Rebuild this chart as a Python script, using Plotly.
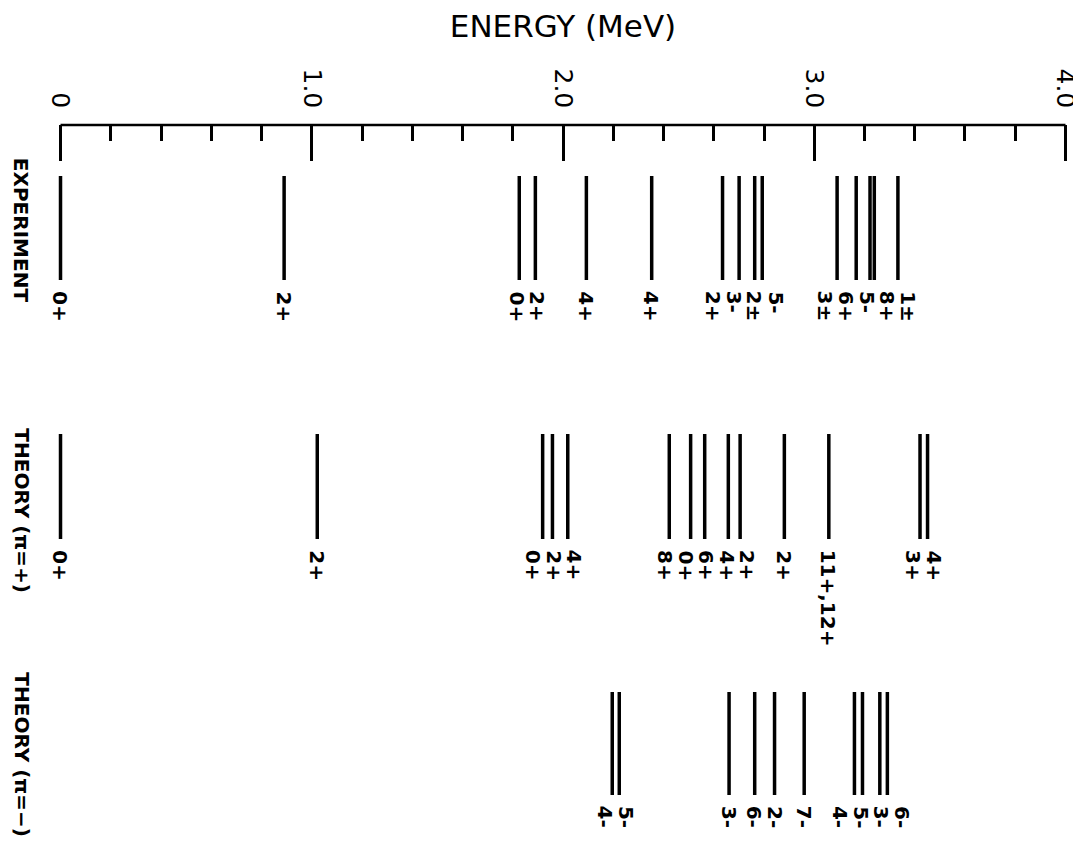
import plotly.graph_objects as go

# ---------------- data (energies in MeV) ----------------
exp_energies = [0.0, 0.890, 1.826, 1.890, 2.093, 2.353, 2.635, 2.701, 2.763, 2.793,
                3.091, 3.167, 3.222, 3.239, 3.333]
exp_labels = ["0+", "2+", "0+", "2+", "4+", "4+", "2+", "3-", "2±", "5-",
              "3±", "6+", "5-", "8+", "1±"]

thp_energies = [0.0, 1.022, 1.919, 1.958, 2.019, 2.423, 2.508, 2.564, 2.658, 2.705,
                2.881, 3.058, 3.421, 3.451]
thp_labels = ["0+", "2+", "0+", "2+", "4+", "8+", "0+", "6+", "4+", "2+",
              "2+", "11+,12+", "3+", "4+"]

thm_energies = [2.196, 2.224, 2.661, 2.763, 2.842, 2.960, 3.160, 3.192, 3.261, 3.291]
thm_labels = ["4-", "5-", "3-", "6-", "2-", "7-", "4-", "5-", "3-", "6-"]

group_names = ["EXPERIMENT", "THEORY (π=+)", "THEORY (π=−)"]

tick_values = [0, 1, 2, 3, 4]
tick_labels = ["0", "1.0", "2.0", "3.0", "4.0"]
axis_title = "ENERGY (MeV)"

# ---------------- layout / style constants ----------------
W, H = 1081, 847
M_L, M_R, M_T = 50, 21, 117
PLOT_H = H - M_T
X_RANGE = [-0.01, 4.01]   # tiny padding so the end ticks are not clipped
FONT = "DejaVu Sans"
# vertical rows (pixels below the axis line): (line top, line bottom, group label top)
rows = [(51, 155, 31), (309, 414, 301), (567, 670, 545)]
LABEL_GAP = 9
MIN_SEP = 0.082      # minimum label separation (MeV) to avoid overlaps
GROUP_LABEL_X = -0.036   # paper fraction (left of the plot area)


def spread(values, d):
    """Spread label positions so that neighbours are at least d apart."""
    order = sorted(range(len(values)), key=lambda i: values[i])
    clusters = [[i] for i in order]

    def pos(c):
        m = sum(values[i] for i in c) / len(c)
        start = m - d * (len(c) - 1) / 2
        return [start + k * d for k in range(len(c))]

    changed = True
    while changed:
        changed = False
        for j in range(len(clusters) - 1):
            if pos(clusters[j])[-1] + d > pos(clusters[j + 1])[0] + 1e-9:
                clusters[j] = clusters[j] + clusters[j + 1]
                del clusters[j + 1]
                changed = True
                break
    out = [0.0] * len(values)
    for c in clusters:
        for i, p in zip(c, pos(c)):
            out[i] = p
    return out


fig = go.Figure()
annotations = []

groups = [(exp_energies, exp_labels), (thp_energies, thp_labels), (thm_energies, thm_labels)]
for (energies, labels), (top, bot, gtop), gname in zip(groups, rows, group_names):
    xs, ys = [], []
    for e in energies:
        xs += [e, e, None]
        ys += [top, bot, None]
    fig.add_trace(go.Scatter(x=xs, y=ys, mode="lines",
                             line=dict(color="black", width=3.5),
                             hoverinfo="skip", showlegend=False))
    lx = spread(energies, MIN_SEP)
    for x, lab in zip(lx, labels):
        annotations.append(dict(x=x, y=bot + LABEL_GAP, xref="x", yref="y",
                                text=lab, showarrow=False, textangle=90,
                                xanchor="center", yanchor="top",
                                font=dict(family=FONT, size=20, color="black",
                                          weight="bold")))
    annotations.append(dict(x=GROUP_LABEL_X, y=gtop, xref="paper", yref="y",
                            text=gname, showarrow=False, textangle=90,
                            xanchor="center", yanchor="top",
                            font=dict(family=FONT, size=20, color="black",
                                      weight="bold")))

fig.update_layout(
    width=W, height=H,
    margin=dict(l=M_L, r=M_R, t=M_T, b=0, pad=0),
    paper_bgcolor="white", plot_bgcolor="white",
    showlegend=False,
    annotations=annotations,
    xaxis=dict(
        range=X_RANGE, side="top", showgrid=False, zeroline=False,
        showline=False,
        tickmode="array", tickvals=tick_values, ticktext=tick_labels,
        ticks="inside", ticklen=36, tickwidth=2.5, tickcolor="black",
        tickangle=90, ticklabelstandoff=12, ticklabeloverflow="allow",
        tickfont=dict(family=FONT, size=25, color="black"),
        minor=dict(dtick=0.2, tick0=0, ticks="inside", ticklen=16,
                   tickwidth=2.5, tickcolor="black", showgrid=False),
        title=dict(text=axis_title, standoff=24,
                   font=dict(family=FONT, size=31, color="black")),
        fixedrange=True,
    ),
    yaxis=dict(range=[PLOT_H, 0], visible=False, fixedrange=True),
)

# axis line spanning exactly the energy range 0 .. 4 MeV
fig.add_shape(type="line", xref="x", yref="paper",
              x0=tick_values[0], x1=tick_values[-1], y0=1, y1=1,
              line=dict(color="black", width=2.5))

fig.write_html("out.html")
